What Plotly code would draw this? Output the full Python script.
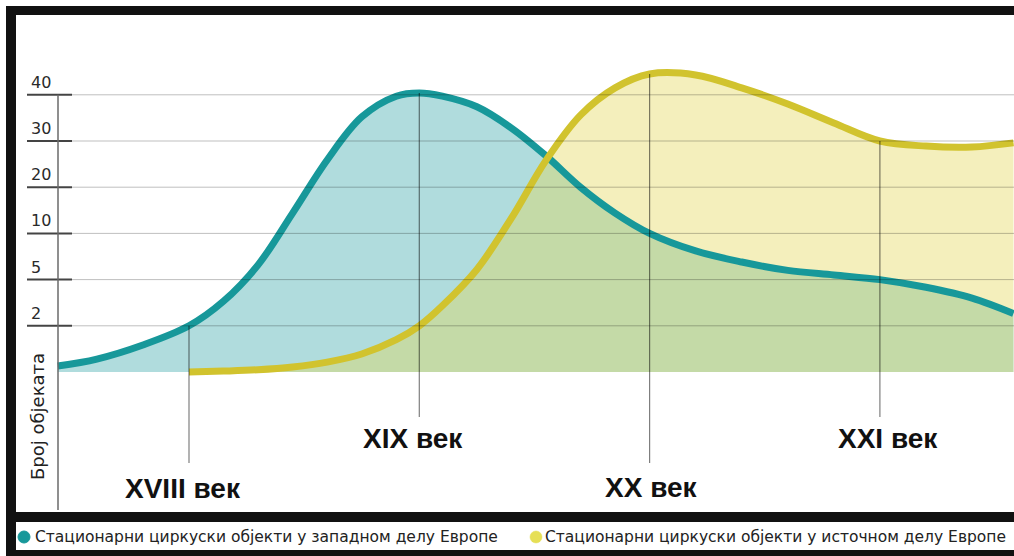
import numpy as np
import plotly.graph_objects as go

W, H = 1014, 556

# Equally spaced levels of the vertical scale (value -> level index)
level_values = [0, 2, 5, 10, 20, 30, 40]
tick_labels = ["2", "5", "10", "20", "30", "40"]
axis_title = "Број објеката"

# Stationary circus buildings, western Europe
west_years = [1693, 1710, 1730, 1750, 1765, 1780, 1795, 1810, 1825, 1840, 1850,
              1860, 1875, 1890, 1905, 1920, 1935, 1950, 1970, 1990, 2010, 2030,
              2050, 2070, 2090, 2108]
west_counts = [0.26, 0.56, 1.17, 2.0, 3.6, 6.6, 14.4, 25.9, 35.2, 39.7, 40.4,
               39.7, 37.4, 32.8, 26.8, 20.0, 14.4, 10.0, 8.1, 6.9, 6.0, 5.5,
               5.0, 4.5, 3.8, 2.8]

# Stationary circus buildings, eastern Europe
east_years = [1750, 1765, 1780, 1795, 1810, 1825, 1840, 1850, 1860, 1875, 1890,
              1905, 1920, 1935, 1950, 1970, 1990, 2010, 2030, 2050, 2070, 2090,
              2108]
east_counts = [0.0, 0.04, 0.1, 0.22, 0.43, 0.78, 1.4, 2.0, 3.3, 6.1, 13.3,
               25.8, 35.6, 41.5, 44.5, 44.3, 41.5, 38.0, 33.9, 30.0, 28.9, 28.7,
               29.6]

century_labels = ["XVIII век", "XIX век", "XX век", "XXI век"]
century_years = [1750, 1850, 1950, 2050]
century_tops = [2.0, 40.4, 44.5, 30.0]

legend_labels = ["Стационарни циркуски објекти у западном делу Европе",
                 "Стационарни циркуски објекти у источном делу Европе"]

TEAL = "#17989a"
YELLOW = "#d1c32e"
FONT = "DejaVu Sans"
BOLD = "Liberation Sans"

# pixel geometry of the drawing area
PX_PER_YEAR = 2.303
PX_PER_LEVEL = 46.2
X0_PX, X0_YEAR = 189, 1750
BASE_PX = 372


def level(v):
    v = np.asarray(v, dtype=float)
    lin = np.interp(v, level_values, np.arange(len(level_values)))
    return np.where(v > 40, 6 + (v - 40) / 10.0, lin)


def px_x(px):
    return X0_YEAR + (px - X0_PX) / PX_PER_YEAR


def px_y(py):
    return (BASE_PX - py) / PX_PER_LEVEL


SPLINE = dict(shape="spline", smoothing=1.0)

fig = go.Figure()

# area fills
fig.add_trace(go.Scatter(x=west_years, y=level(west_counts), mode="lines",
                         line=dict(width=0, **SPLINE),
                         fill="tozeroy", fillcolor="rgba(23,153,155,0.34)",
                         hoverinfo="skip", showlegend=False))
fig.add_trace(go.Scatter(x=east_years, y=level(east_counts), mode="lines",
                         line=dict(width=0, **SPLINE),
                         fill="tozeroy", fillcolor="rgba(227,215,87,0.40)",
                         hoverinfo="skip", showlegend=False))
# curves
fig.add_trace(go.Scatter(x=west_years, y=level(west_counts), mode="lines",
                         line=dict(color=TEAL, width=7, **SPLINE),
                         hoverinfo="skip", showlegend=False))
fig.add_trace(go.Scatter(x=east_years, y=level(east_counts), mode="lines",
                         line=dict(color=YELLOW, width=7, **SPLINE),
                         hoverinfo="skip", showlegend=False))

shapes = []
# black frame
for x0, y0, x1, y1 in [(6, 6, 16, 556), (6, 6, W, 15), (6, 512, W, 522), (6, 550, W, 556)]:
    shapes.append(dict(type="rect", xref="paper", yref="paper",
                       x0=x0 / W, x1=x1 / W, y0=1 - y1 / H, y1=1 - y0 / H,
                       fillcolor="#111111", line=dict(width=0), layer="below"))

# horizontal grid with tick marks
for k in range(1, len(level_values)):
    shapes.append(dict(type="line", xref="paper", yref="y", x0=72 / W, x1=1,
                       y0=k, y1=k, line=dict(color="rgba(0,0,0,0.25)", width=1),
                       layer="above"))
    shapes.append(dict(type="line", xref="paper", yref="y", x0=27 / W, x1=72 / W,
                       y0=k, y1=k, line=dict(color="#444444", width=2),
                       layer="above"))

# vertical axis line
shapes.append(dict(type="line", xref="paper", yref="y", x0=58 / W, x1=58 / W,
                   y0=len(level_values) - 1, y1=px_y(510),
                   line=dict(color="#6a6a6a", width=1.5), layer="above"))

# century markers
century_bottoms = [px_y(463), px_y(417), px_y(463), px_y(417)]
for yr, top, bot in zip(century_years, century_tops, century_bottoms):
    shapes.append(dict(type="line", xref="x", yref="y", x0=yr, x1=yr,
                       y0=float(level(top)), y1=bot,
                       line=dict(color="rgba(0,0,0,0.5)", width=1.2), layer="above"))

# legend markers
for cx, col, edge in [(24, TEAL, TEAL), (536, "#e6df55", "rgba(230,223,85,0.5)")]:
    r = 6
    shapes.append(dict(type="circle", xref="paper", yref="paper",
                       x0=(cx - r) / W, x1=(cx + r) / W,
                       y0=1 - (537 + r) / H, y1=1 - (537 - r) / H,
                       fillcolor=col, line=dict(color=edge, width=1)))

annotations = []
for k, lab in enumerate(tick_labels, start=1):
    annotations.append(dict(xref="paper", yref="y", x=29 / W, y=k, text=lab,
                            xanchor="left", yanchor="bottom", yshift=1,
                            showarrow=False, font=dict(family=FONT, size=16, color="#2a2a2a")))

label_pos = [(183, 488), (413, 438), (651, 487), (888, 438)]
for lab, (lx, ly) in zip(century_labels, label_pos):
    annotations.append(dict(xref="paper", yref="paper", x=lx / W, y=1 - ly / H,
                            text="<b>" + lab + "</b>", showarrow=False,
                            xanchor="center", yanchor="middle",
                            font=dict(family=BOLD, size=28, color="#111111")))

annotations.append(dict(xref="paper", yref="paper", x=37 / W, y=1 - 417 / H,
                        text=axis_title, textangle=-90, showarrow=False,
                        xanchor="center", yanchor="middle",
                        font=dict(family=FONT, size=18, color="#222222")))

for lab, lx in zip(legend_labels, [33, 543]):
    annotations.append(dict(xref="paper", yref="paper", x=lx / W, y=1 - 537 / H,
                            text=lab, showarrow=False, xanchor="left", yanchor="middle",
                            font=dict(family=FONT, size=15.5, color="#222222")))

fig.update_layout(
    width=W, height=H, autosize=False,
    margin=dict(l=0, r=0, t=0, b=0),
    paper_bgcolor="white", plot_bgcolor="rgba(0,0,0,0)",
    xaxis=dict(range=[px_x(0), px_x(W)], visible=False, fixedrange=True),
    yaxis=dict(range=[px_y(H), px_y(0)], visible=False, fixedrange=True),
    shapes=shapes, annotations=annotations, showlegend=False,
)

fig.write_html("out.html")
